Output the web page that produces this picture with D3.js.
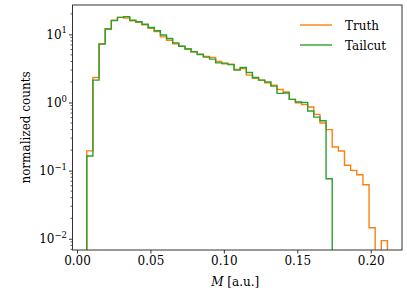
<!DOCTYPE html>
<html>
<head>
<meta charset="utf-8">
<script src="https://cdn.jsdelivr.net/npm/d3@7"></script>
<style>
  body { margin: 0; background: #fff; }
  text { font-family: "DejaVu Serif", serif; fill: #000; }
</style>
</head>
<body>
<svg id="chart"></svg>
<script>
// Histogram binning (49 equal bins)
const binStart = 0.00667;
const binWidth = 0.004178;

// Normalized counts per bin
const truthCounts = [0.195, 2.33, 7.3, 12.0, 16.2, 17.8, 17.4, 15.8, 15.0, 13.8,
  12.3, 11.0, 9.2, 8.2, 7.3, 6.7, 6.1, 5.55, 5.1, 4.75,
  4.6, 4.0, 3.7, 3.66, 3.06, 3.16, 2.52, 2.26, 2.13, 1.95,
  1.80, 1.55, 1.43, 1.11, 0.99, 0.93, 0.86, 0.67, 0.50, 0.40,
  0.222, 0.194, 0.120, 0.101, 0.087, 0.062, 0.0145, 0, 0.0094];
const tailcutCounts = [0.164, 2.13, 7.2, 12.0, 15.9, 17.8, 18.2, 16.1, 15.3, 14.1,
  12.6, 11.3, 9.8, 8.7, 7.5, 6.7, 6.1, 5.55, 5.08, 4.64,
  4.33, 3.82, 3.78, 3.6, 2.99, 3.27, 2.76, 2.33, 2.13, 2.01,
  1.74, 1.36, 1.38, 1.11, 1.02, 1.0, 0.75, 0.61, 0.54, 0.076,
  0, 0, 0, 0, 0, 0, 0, 0, 0];

const seriesNames = ["Truth", "Tailcut"];
const seriesColors = ["#ff7f0e", "#2ca02c"];
const xTicks = [0, 0.05, 0.10, 0.15, 0.20];
const yTicks = [0.01, 0.1, 1, 10];

const width = 407, height = 305;
const plot = {left: 72.5, right: 402, top: 5, bottom: 250};

const svg = d3.select("#chart")
    .attr("width", width)
    .attr("height", height);

const x = d3.scaleLinear().domain([-0.00306, 0.2213]).range([plot.left, plot.right]);
const y = d3.scaleLog().domain([0.00684, 27]).range([plot.bottom, plot.top]);

svg.append("clipPath").attr("id", "clip")
  .append("rect")
    .attr("x", plot.left).attr("y", plot.top)
    .attr("width", plot.right - plot.left).attr("height", plot.bottom - plot.top);

// step outline like matplotlib histtype="step"
function stepPath(counts) {
  const edges = d3.range(counts.length + 1).map(i => binStart + i * binWidth);
  const yv = v => v > 0 ? y(v) : plot.bottom + 20;
  let p = `M${x(edges[0])},${plot.bottom + 20}`;
  counts.forEach((v, i) => {
    p += `L${x(edges[i])},${yv(v)}L${x(edges[i + 1])},${yv(v)}`;
  });
  p += `L${x(edges[counts.length])},${plot.bottom + 20}`;
  return p;
}

const gData = svg.append("g").attr("clip-path", "url(#clip)");
[truthCounts, tailcutCounts].forEach((counts, i) => {
  gData.append("path")
    .attr("d", stepPath(counts))
    .attr("fill", "none")
    .attr("stroke", seriesColors[i])
    .attr("stroke-width", 1.4)
    .attr("stroke-linejoin", "miter");
});

// x axis
const xAxis = svg.append("g")
    .attr("transform", `translate(0,${plot.bottom})`)
    .call(d3.axisBottom(x).tickValues(xTicks).tickFormat(d3.format(".2f")).tickSize(3.5).tickPadding(3));
xAxis.select(".domain").remove();
xAxis.selectAll("text").attr("font-size", 12).attr("font-family", "DejaVu Serif");
xAxis.selectAll("line").attr("stroke", "#333");

// y axis major ticks with power labels
const yAxis = svg.append("g")
    .attr("transform", `translate(${plot.left},0)`)
    .call(d3.axisLeft(y).tickValues(yTicks).tickFormat("").tickSize(3.5));
yAxis.select(".domain").remove();
yAxis.selectAll("line").attr("stroke", "#333");

// minor ticks
const minor = [];
[0.001, 0.01, 0.1, 1, 10].forEach(dec => {
  for (let m = 2; m <= 9; m++) {
    const v = dec * m;
    if (v >= y.domain()[0] && v <= y.domain()[1]) minor.push(v);
  }
});
svg.append("g").selectAll("line").data(minor).join("line")
    .attr("x1", plot.left - 2).attr("x2", plot.left)
    .attr("y1", d => y(d)).attr("y2", d => y(d))
    .attr("stroke", "#333").attr("stroke-width", 0.8);

const yLab = svg.append("g").selectAll("text").data(yTicks).join("text")
    .attr("x", 67).attr("y", d => y(d) + 4.5)
    .attr("text-anchor", "end")
    .attr("font-size", 12);
yLab.append("tspan").text("10");
yLab.append("tspan")
    .attr("dy", -5.5)
    .attr("font-size", 8.5)
    .text(d => String(Math.round(Math.log10(d))).replace("-", "\u2212"));

// frame
svg.append("rect")
    .attr("x", plot.left).attr("y", plot.top)
    .attr("width", plot.right - plot.left).attr("height", plot.bottom - plot.top)
    .attr("fill", "none").attr("stroke", "#333").attr("stroke-width", 1);

// axis labels
const xl = svg.append("text")
    .attr("x", (plot.left + plot.right) / 2 - 2).attr("y", 286)
    .attr("text-anchor", "middle").attr("font-size", 12);
xl.append("tspan").attr("font-style", "italic").text("M");
xl.append("tspan").text("  [a.u.]");

svg.append("text")
    .attr("transform", `translate(30,${(plot.top + plot.bottom) / 2}) rotate(-90)`)
    .attr("text-anchor", "middle").attr("font-size", 12)
    .text("normalized counts");

// legend
const legend = svg.append("g");
seriesNames.forEach((name, i) => {
  const ly = 25 + i * 20;
  legend.append("line")
    .attr("x1", 300).attr("x2", 332).attr("y1", ly).attr("y2", ly)
    .attr("stroke", seriesColors[i]).attr("stroke-width", 1.4);
  legend.append("text")
    .attr("x", 345).attr("y", ly + 4.5)
    .attr("font-size", 12)
    .text(name);
});
</script>
</body>
</html>
